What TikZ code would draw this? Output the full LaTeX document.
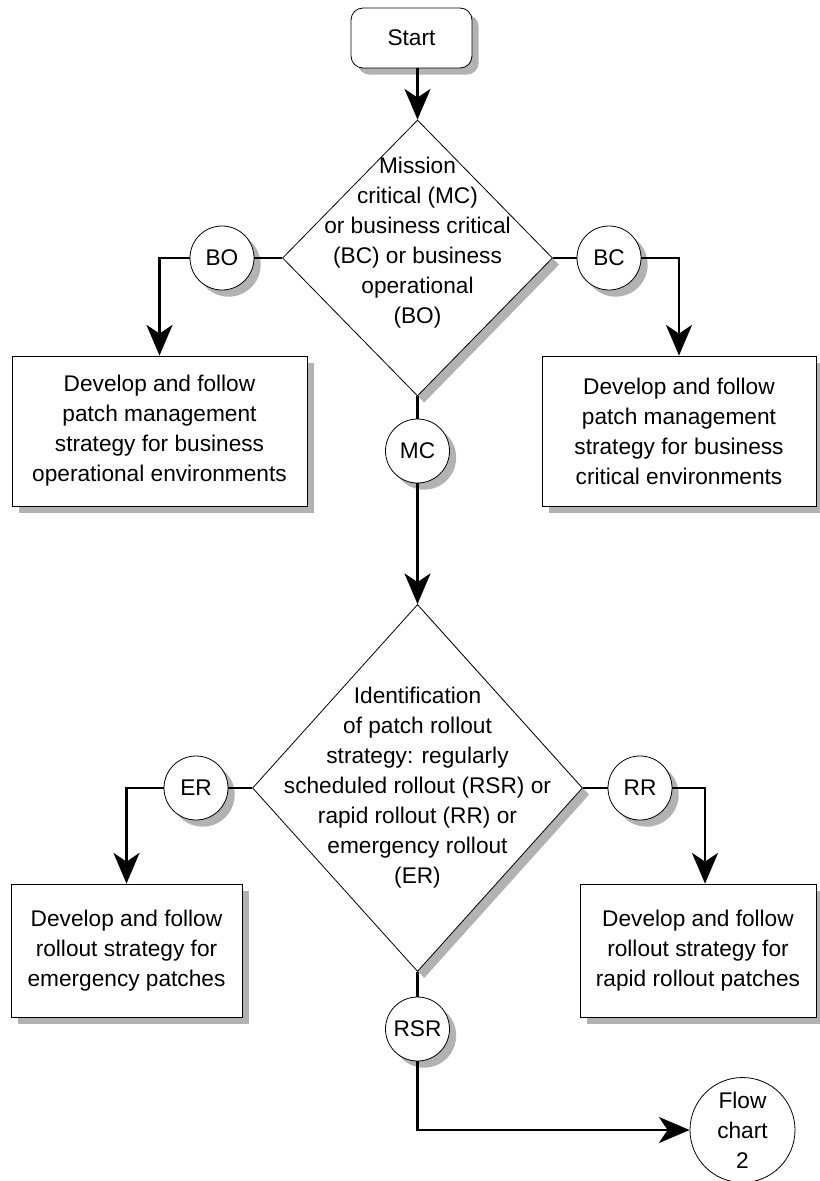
\documentclass[tikz,border=0pt]{standalone}
\usepackage{fontspec}
\setmainfont{Liberation Sans}
\usetikzlibrary{shapes.geometric,shadows,arrows.meta}

\begin{document}
\begin{tikzpicture}[x=0.75pt,y=0.75pt,yscale=-1,
  every node/.style={font=\fontsize{17}{22.5}\selectfont},
  shadowed/.style={drop shadow={shadow xshift=5pt,shadow yshift=-5pt,fill=black!30,opacity=1}},
  terminal/.style={draw,line width=0.6pt,fill=white,rounded corners=9pt,minimum width=90.75pt,minimum height=45pt,inner sep=0pt,shadowed},
  decision/.style={draw,line width=0.6pt,fill=white,diamond,inner sep=0pt,shadowed},
  branch/.style={draw,line width=0.6pt,fill=white,circle,minimum size=48pt,inner sep=0pt,shadowed},
  process/.style={draw,line width=0.6pt,fill=white,align=center,inner sep=0pt,shadowed},
  offpage/.style={draw,line width=0.6pt,fill=white,circle,minimum size=78.75pt,inner sep=0pt,align=center},
  link/.style={line width=2pt},
  arr/.style={link,-{Stealth[length=23pt,width=19.5pt,inset=6.5pt]}}]
\useasboundingbox (0,0) rectangle (820,1181);

%Start
\node [terminal] (start) at (411.5,38) {Start};

%Decision: criticality
\node [decision,minimum width=202.5pt,minimum height=207pt] (crit) at (417.5,258) {};
% Text Node
\node [align=center] (crittext) at (417.5,243) {Mission\\critical (MC)\\or business critical\\(BC) or business\\operational\\(BO)};

%Branch circles
\node [branch] (bo) at (222,258) {BO};
\node [branch] (bc) at (609,258) {BC};
\node [branch] (mc) at (417.5,451) {MC};

%Strategy boxes
\node [process,minimum width=221.25pt,minimum height=112.5pt] (opbox) at (159.5,431) {Develop and follow\\patch management\\strategy for business\\operational environments};
\node [process,minimum width=205.5pt,minimum height=112.5pt] (critbox) at (679,431) {Develop and follow\\patch management\\strategy for business\\critical environments};

%Decision: rollout
\node [decision,minimum width=247.5pt,minimum height=275.25pt] (roll) at (417.5,788) {};
% Text Node
\node [align=center] (rolltext) at (417.5,788) {Identification\\of patch rollout\\strategy: regularly\\scheduled rollout (RSR) or\\rapid rollout (RR) or\\emergency rollout\\(ER)};

\node [branch] (er) at (196,788) {ER};
\node [branch] (rr) at (640,788) {RR};
\node [branch] (rsr) at (417.5,1029) {RSR};

\node [process,minimum width=173.25pt,minimum height=99.75pt] (emerbox) at (126.5,950.5) {Develop and follow\\rollout strategy for\\emergency patches};
\node [process,minimum width=177pt,minimum height=99.75pt] (rapidbox) at (698,950.5) {Develop and follow\\rollout strategy for\\rapid rollout patches};

%Off-page connector
\node [offpage] (chart2) at (742.5,1130) {Flow\\chart\\2};

%Connectors
\draw [arr] (start.south -| crit.north) -- (crit.north);
\draw [link] (crit.west) -- (bo.east);
\draw [arr] (bo.west) -| (opbox.north);
\draw [link] (crit.east) -- (bc.west);
\draw [arr] (bc.east) -| (critbox.north);
\draw [link] (crit.south) -- (mc.north);
\draw [arr] (mc.south) -- (roll.north);
\draw [link] (roll.west) -- (er.east);
\draw [arr] (er.west) -| (emerbox.north);
\draw [link] (roll.east) -- (rr.west);
\draw [arr] (rr.east) -| ([xshift=5.25pt]rapidbox.north);
\draw [link] (roll.south) -- (rsr.north);
\draw [arr] (rsr.south) |- (chart2.west);

\end{tikzpicture}
\end{document}
